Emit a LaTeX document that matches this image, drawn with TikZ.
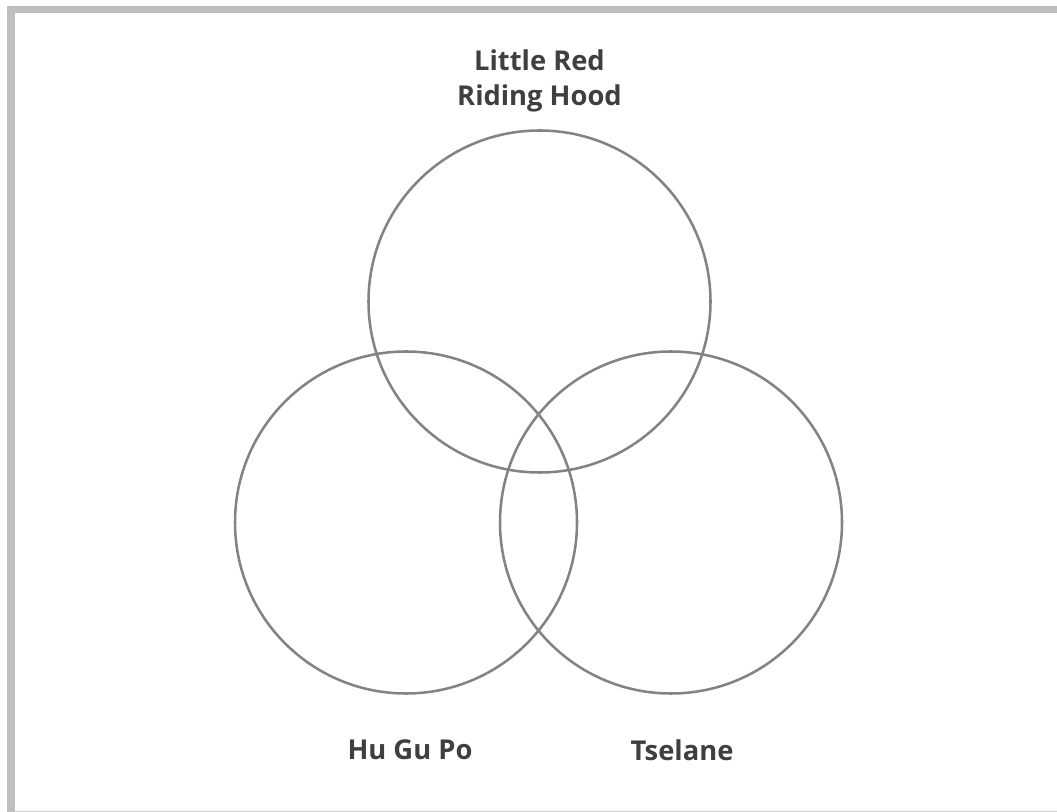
\documentclass[tikz,border=0pt]{standalone}
\usepackage{fontspec}
\setsansfont{Open Sans}
\usepackage{tikz}
\usetikzlibrary{positioning}
\usepackage{xcolor}
\definecolor{frame}{HTML}{BEBFC0}
\definecolor{ring}{HTML}{838385}
\definecolor{ink}{HTML}{3F3F42}
\tikzset{
  setlabel/.style={ink,font=\sffamily\bfseries\fontsize{20.5}{26}\selectfont,align=center}
}

\begin{document}
\begin{tikzpicture}[x=0.75pt,y=-0.75pt]
  \useasboundingbox (0,0) rectangle (1057,812);
  \fill[white] (0,0) rectangle (1057,812);
  % frame
  \fill[frame] (7,6) rectangle (1057,13.5);
  \fill[frame] (7,6) rectangle (15,812);
  \fill[frame!70] (15,810.5) rectangle (1057,812);
  % sets
  \draw[ring,line width=1.9pt] (539.5,301.5) circle (171);
  \draw[ring,line width=1.9pt] (406,522.5) circle (171);
  \draw[ring,line width=1.9pt] (671,522.5) circle (171);
  \node[setlabel] (lrrh) at (539.5,81) {Little Red\\Riding Hood};
  \node[setlabel] (hgp) at (410,750) {Hu Gu Po};
  \node[setlabel] (tse) at (682,750) {Tselane};
\end{tikzpicture}
\end{document}
